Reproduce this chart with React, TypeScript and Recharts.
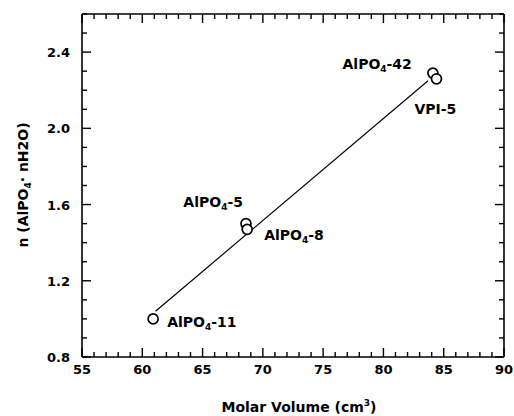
import { ScatterChart, Scatter, XAxis, YAxis, Label } from 'recharts';

const names = ['AlPO4-11', 'AlPO4-5', 'AlPO4-8', 'AlPO4-42', 'VPI-5'];
const molarVolume = [60.9, 68.6, 68.7, 84.1, 84.4];
const nWater = [1.0, 1.5, 1.47, 2.29, 2.26];

// end points of the fitted line
const fitVolume = [61.1, 83.7];
const fitN = [1.04, 2.25];

const xTicks = [55, 56, 57, 58, 59, 60, 61, 62, 63, 64, 65, 66, 67, 68, 69, 70, 71, 72, 73, 74, 75, 76, 77, 78, 79, 80, 81, 82, 83, 84, 85, 86, 87, 88, 89, 90];
const xLabeled = [55, 60, 65, 70, 75, 80, 85, 90];
const yTicks = [0.8, 0.9, 1.0, 1.1, 1.2, 1.3, 1.4, 1.5, 1.6, 1.7, 1.8, 1.9, 2.0, 2.1, 2.2, 2.3, 2.4, 2.5, 2.6];
const yLabeled = [0.8, 1.2, 1.6, 2.0, 2.4];

const points = names.map((name, i) => ({ name, x: molarVolume[i], y: nWater[i] }));
const fitLine = fitVolume.map((x, i) => ({ x, y: fitN[i] }));
// tick marks along the bottom and left edges of the frame
const bottomMarks = xTicks.map((x) => ({ x, y: yTicks[0] }));
const leftMarks = yTicks.map((y) => ({ x: xTicks[0], y }));

const FONT = '"DejaVu Sans", sans-serif';

// where each point's name sits relative to its circle
const labelPos: Record<string, { dx: number; dy: number; anchor: 'start' | 'end' }> = {
  'AlPO4-11': { dx: 14, dy: 8, anchor: 'start' },
  'AlPO4-5': { dx: -3, dy: -17, anchor: 'end' },
  'AlPO4-8': { dx: 17, dy: 11, anchor: 'start' },
  'AlPO4-42': { dx: -21, dy: -4, anchor: 'end' },
  'VPI-5': { dx: -22, dy: 35, anchor: 'start' },
};

function isIn(list: number[], v: number) {
  return list.some((t) => Math.abs(t - v) < 1e-6);
}

const tickStroke = { stroke: '#000', strokeWidth: 1.4, fill: 'none' };

function topTick(p: any) {
  const x = Number(p.x);
  const y = Number(p.y);
  const len = isIn(xLabeled, p.payload.value) ? 9 : 5;
  return <path d={`M${x},${y}L${x},${y + len}`} {...tickStroke} />;
}

function rightTick(p: any) {
  const x = Number(p.x);
  const y = Number(p.y);
  const len = isIn(yLabeled, p.payload.value) ? 9 : 5;
  return <path d={`M${x},${y}L${x - len},${y}`} {...tickStroke} />;
}

function bottomLabel(p: any) {
  const v = p.payload.value;
  if (!isIn(xLabeled, v)) return <g />;
  return (
    <text x={p.x} y={Number(p.y) + 17} textAnchor="middle" fontFamily={FONT} fontSize={13} fontWeight={700} fill="#000">{v}</text>
  );
}

function leftLabel(p: any) {
  const v = p.payload.value;
  if (!isIn(yLabeled, v)) return <g />;
  return (
    <text x={Number(p.x) - 12} y={Number(p.y) + 5} textAnchor="end" fontFamily={FONT} fontSize={13} fontWeight={700} fill="#000">{v.toFixed(1)}</text>
  );
}

function BottomMark(p: any) {
  const len = isIn(xLabeled, p.payload.x) ? 9 : 5;
  return <path d={`M${p.cx},${p.cy}L${p.cx},${p.cy - len}`} {...tickStroke} />;
}

function LeftMark(p: any) {
  const len = isIn(yLabeled, p.payload.y) ? 9 : 5;
  return <path d={`M${p.cx},${p.cy}L${p.cx + len},${p.cy}`} {...tickStroke} />;
}

function PointShape(props: any) {
  const { cx, cy, payload } = props;
  const pos = labelPos[payload.name];
  const sub = payload.name.startsWith('AlPO4');
  return (
    <g>
      <circle cx={cx} cy={cy} r={5} fill="#fff" stroke="#000" strokeWidth={1.7} />
      <text x={cx + pos.dx} y={cy + pos.dy} textAnchor={pos.anchor}
        fontFamily={FONT} fontSize={14} fontWeight={700} fill="#000">
        {sub ? (
          <>
            AlPO<tspan fontSize={9} dy={3}>4</tspan>
            <tspan dy={-3}>{payload.name.slice(5)}</tspan>
          </>
        ) : payload.name}
      </text>
    </g>
  );
}

export default function App() {
  return (
    <div style={{ position: 'absolute', left: 0, top: 0, width: 514, height: 416, background: '#fff' }}>
      <ScatterChart width={514} height={416} margin={{ top: 0, right: 0, bottom: 0, left: 0 }}>
        <XAxis xAxisId="bottom" type="number" dataKey="x" domain={[55, 90]} ticks={xTicks} interval={0}
          height={59} tickSize={0} tickMargin={0} tickLine={false}
          axisLine={{ stroke: '#000', strokeWidth: 1.6 }}
          tick={bottomLabel}>
          <Label content={() => (
            <text x={299} y={412} textAnchor="middle" fontFamily={FONT} fontSize={14} fontWeight={700} fill="#000">
              Molar Volume (cm<tspan fontSize={9} dy={-6}>3</tspan><tspan dy={6}>)</tspan>
            </text>
          )} />
        </XAxis>
        <XAxis xAxisId="top" orientation="top" type="number" dataKey="x" domain={[55, 90]} ticks={xTicks} interval={0}
          height={14} tickSize={0} tickMargin={0} tickLine={false}
          axisLine={{ stroke: '#000', strokeWidth: 1.6 }}
          tick={topTick} />
        <YAxis yAxisId="left" type="number" dataKey="y" domain={[0.8, 2.6]} ticks={yTicks} interval={0}
          width={82} tickSize={0} tickMargin={0} tickLine={false}
          axisLine={{ stroke: '#000', strokeWidth: 1.6 }}
          tick={leftLabel}>
          <Label content={() => (
            <text x={28} y={185} transform="rotate(-90, 28, 185)" textAnchor="middle"
              fontFamily={FONT} fontSize={14} fontWeight={700} fill="#000">
              n (AlPO<tspan fontSize={9} dy={3}>4</tspan><tspan dy={-3}>· nH2O)</tspan>
            </text>
          )} />
        </YAxis>
        <YAxis yAxisId="right" orientation="right" type="number" dataKey="y" domain={[0.8, 2.6]} ticks={yTicks} interval={0}
          width={10} tickSize={0} tickMargin={0} tickLine={false}
          axisLine={{ stroke: '#000', strokeWidth: 1.6 }}
          tick={rightTick} />
        {/* fitted line is bound to the mirror axes (same domains) so they get ticks too */}
        <Scatter xAxisId="top" yAxisId="right" data={fitLine} line={{ stroke: '#000', strokeWidth: 1.2 }}
          shape={() => <g />} isAnimationActive={false} />
        <Scatter xAxisId="bottom" yAxisId="left" data={bottomMarks} shape={BottomMark} isAnimationActive={false} />
        <Scatter xAxisId="bottom" yAxisId="left" data={leftMarks} shape={LeftMark} isAnimationActive={false} />
        <Scatter xAxisId="bottom" yAxisId="left" data={points} shape={PointShape} isAnimationActive={false} />
      </ScatterChart>
    </div>
  );
}
